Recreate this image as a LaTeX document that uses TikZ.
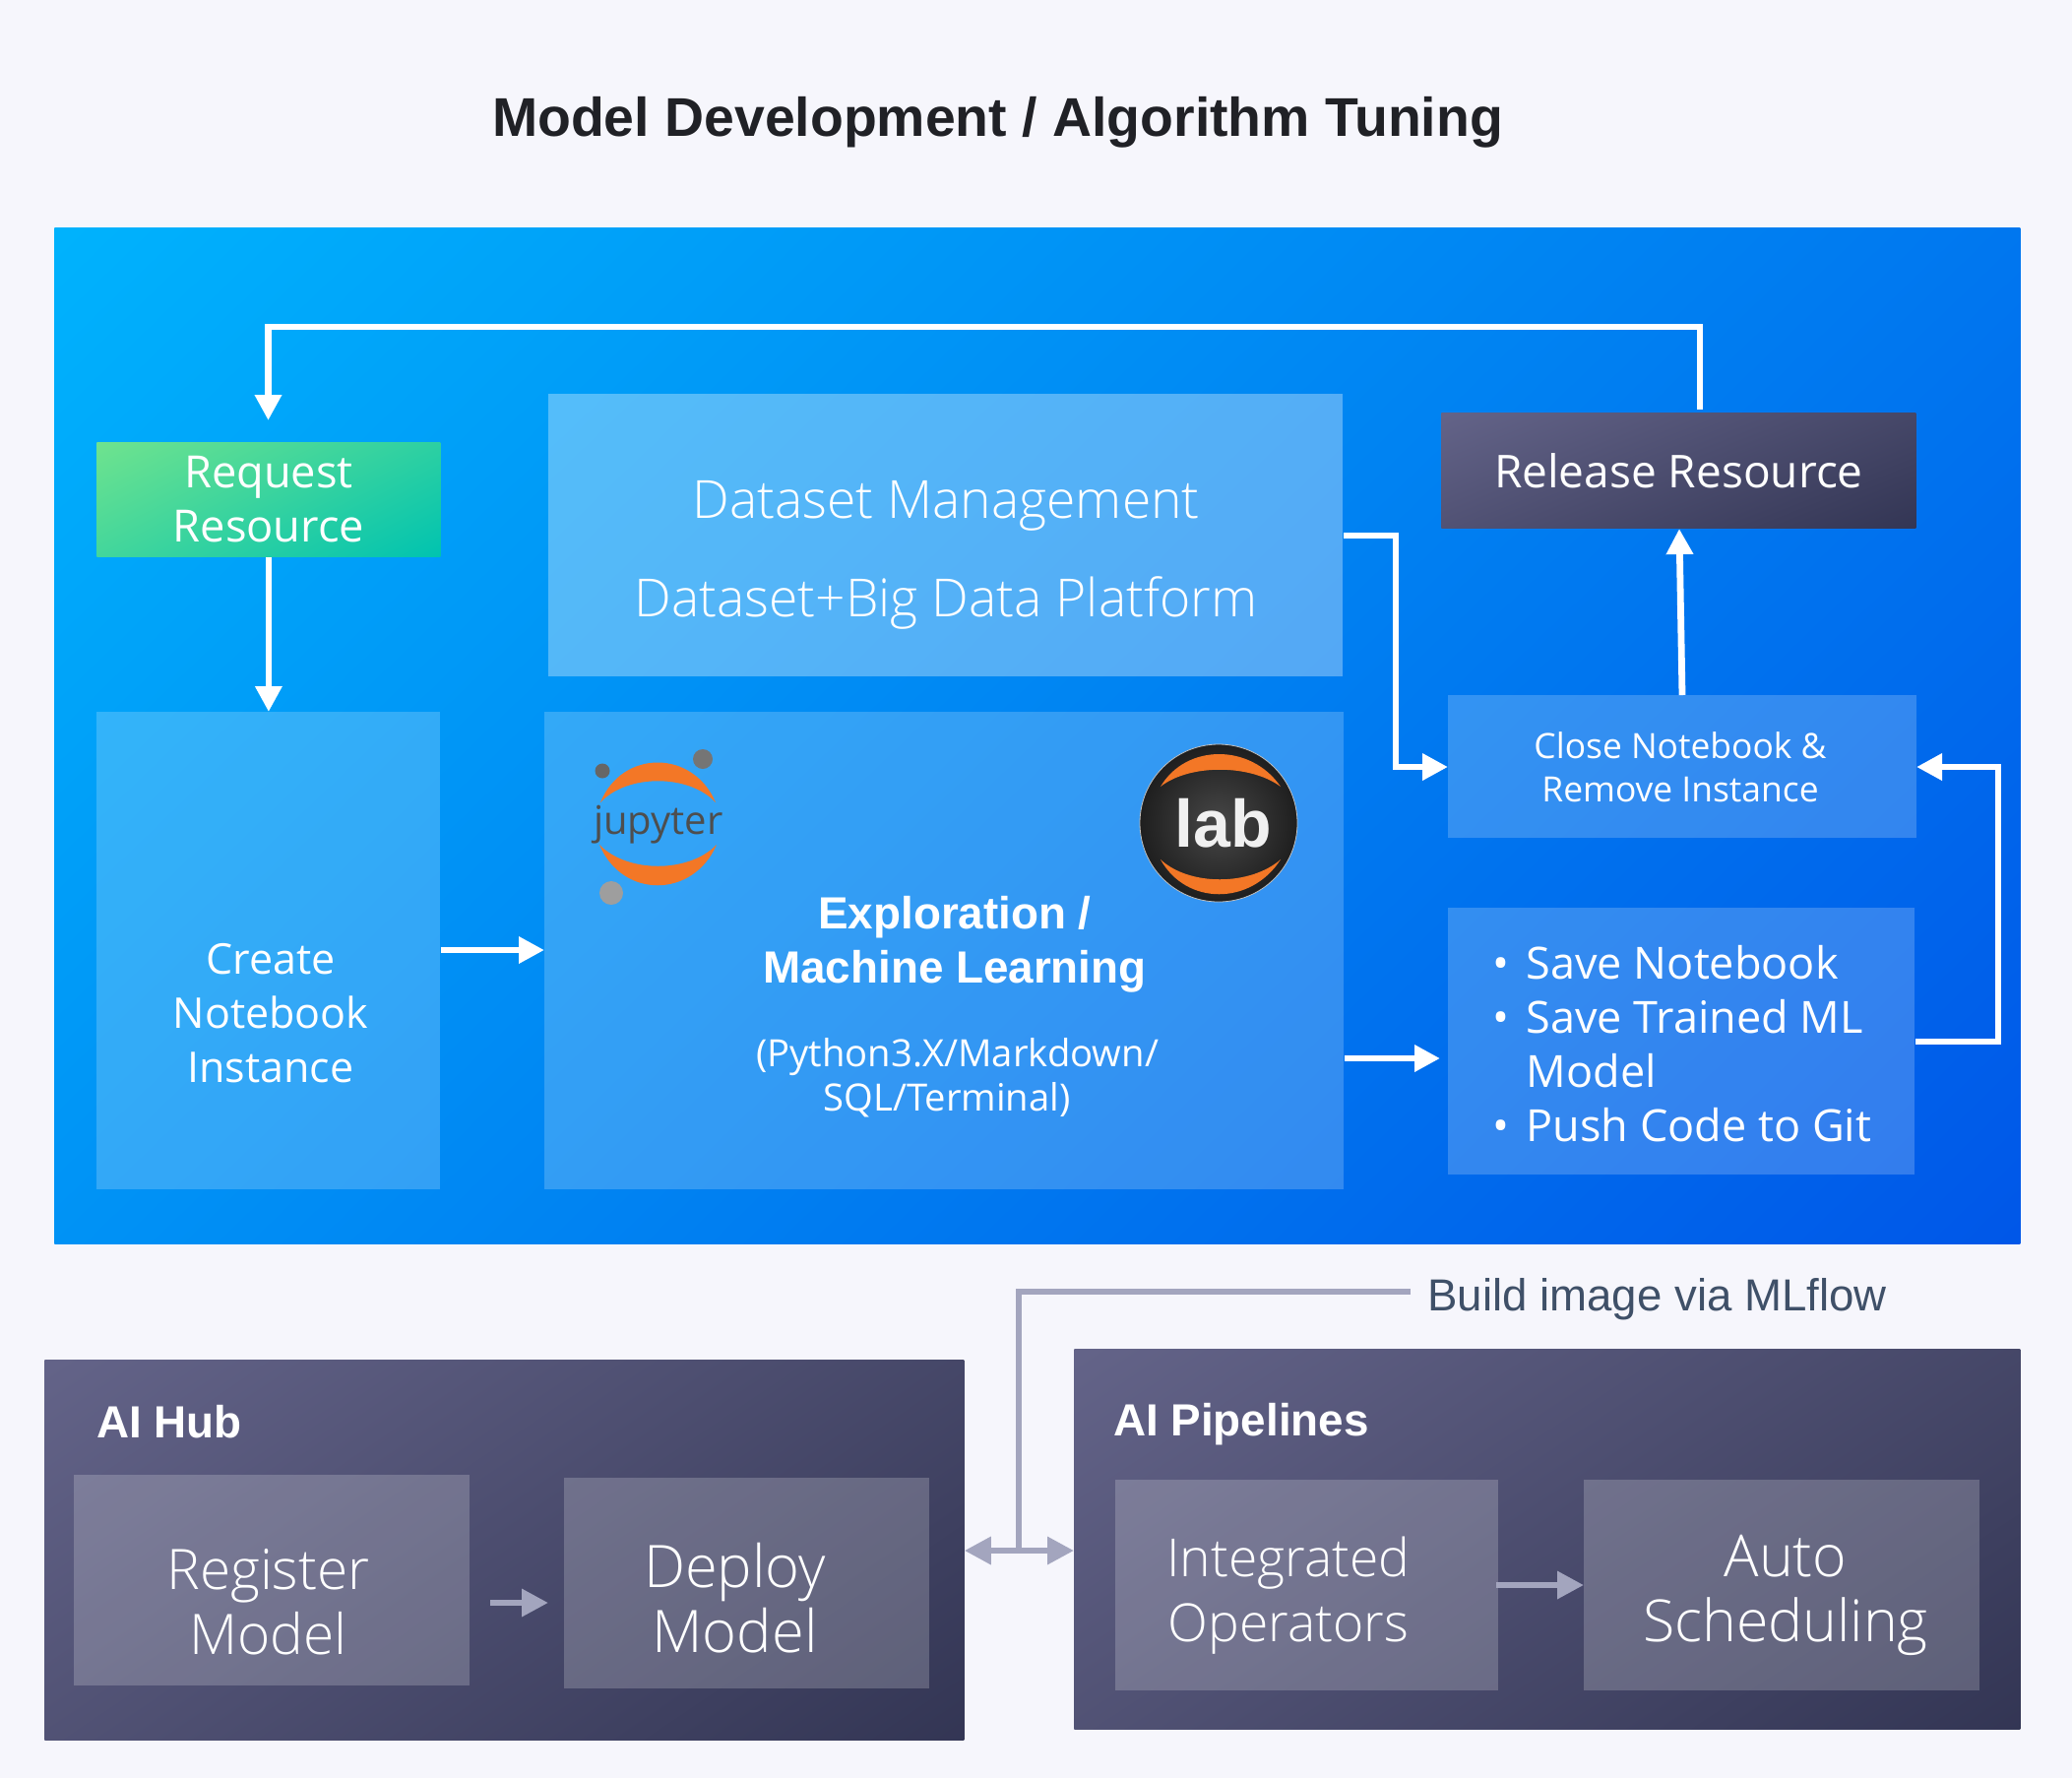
\documentclass[tikz,border=0pt]{standalone}
\usepackage{fontspec}
\setmainfont{Open Sans}
\newfontfamily\headf{Liberation Sans}
\newfontfamily\lightf{Open Sans Light}
\usetikzlibrary{arrows.meta,calc}
\definecolor{pagebg}{HTML}{F6F6FC}
\definecolor{linkgrey}{HTML}{A3A5BE}
\definecolor{labelink}{HTML}{3F5068}
\definecolor{jorange}{HTML}{F37726}
% Two-colour diagonal ramp: the stack holds x y in 0..100bp, the box spans 25..75.
% Arguments: name, start r g b, change in r g b, share of the horizontal in the ramp.
\newcommand\diagramp[8]{%
  \pgfdeclarefunctionalshading{#1}{\pgfpointorigin}{\pgfpoint{100bp}{100bp}}{}{%
    75 exch sub 50 div 1 #8 sub mul exch 25 sub 50 div #8 mul add
    dup #5 mul #2 add exch
    dup #6 mul #3 add exch
    #7 mul #4 add
  }%
}
\diagramp{rampblue}{0}{0.70}{0.99}{0}{-0.36}{-0.08}{0.65}
\diagramp{rampslate}{0.39}{0.39}{0.535}{-0.19}{-0.18}{-0.205}{0.62}
\diagramp{rampgreen}{0.435}{0.89}{0.557}{-0.435}{-0.125}{0.133}{0.6}
\tikzset{
  x=0.5pt,y=-0.5pt,
  boxat/.style n args={4}{at={(#1,#2)},anchor=north west,inner sep=0pt,
    minimum width={(#3-#1)*0.5pt},minimum height={(#4-#2)*0.5pt},align=center},
  glass/.style={fill=white,fill opacity=0.2,text opacity=1,text=white},
  paleglass/.style={glass,fill opacity=0.33},
  panelblue/.style={shade,shading=rampblue},
  panelslate/.style={shade,shading=rampslate,text=white},
  panelgreen/.style={shade,shading=rampgreen,text=white},
  boxlabel/.style={text=white,align=center,inner sep=0pt},
  lighttext/.style={boxlabel,font=\lightf\fontsize{26.7}{35}\selectfont},
  bigtext/.style={boxlabel,font=\lightf\fontsize{#1}{33}\selectfont},
  headtext/.style={font=\headf\bfseries\fontsize{22.9}{27.5}\selectfont,text=white},
  flow/.style={draw=white,line width=3.4pt,-{Triangle[length=13pt,width=13pt]}},
  linkline/.style={draw=linkgrey,line width=3.2pt},
  linkarrow/.style={linkline,-{Triangle[length=13.5pt,width=13.5pt]}},
  linkboth/.style={linkline,{Triangle[length=13.5pt,width=13.5pt]}-{Triangle[length=13.5pt,width=13.5pt]}},
}
\begin{document}
\begin{tikzpicture}
\useasboundingbox (0,0) rectangle (2105,1806);
\fill[pagebg] (0,0) rectangle (2105,1806);

\node[font=\headf\bfseries\fontsize{27.7}{32}\selectfont,text={rgb,255:red,32;green,33;blue,38}] (title) at (1013.5,124) {Model Development / Algorithm Tuning};

% upper panel and its boxes
\node[boxat={55}{231}{2052}{1263},panelblue] (panel) {};
\node[boxat={98}{449}{447}{565},panelgreen,font=\fontsize{22.6}{27.5}\selectfont] (request) {Request\\Resource};
\node[boxat={557}{400}{1364}{687},paleglass] (dataset) {};
\node[lighttext] (datasettext) at (961,564) {Dataset Management\\[14.7pt]Dataset+Big Data Platform};
\node[boxat={1464}{419}{1946}{536},panelslate,font=\fontsize{23}{27.5}\selectfont] (release) {Release Resource};
\node[boxat={1471}{706}{1947}{851},glass] (closebox) {};
\node[boxlabel,font=\fontsize{17.7}{22}\selectfont] (closetext) at (1707,779) {Close Notebook \&\\Remove Instance};
\node[boxat={1471}{922}{1945}{1193},glass] (savebox) {};
\node[boxat={98}{723}{447}{1208},glass] (create) {};
\node[boxat={553}{723}{1365}{1208},glass] (explore) {};

\node[boxlabel,font=\fontsize{21.5}{27.5}\selectfont] (createtext) at (275,1029) {Create\\Notebook\\Instance};
\node[anchor=north west,inner sep=0pt,font=\fontsize{22.5}{27.5}\selectfont,text=white,align=left] (savetext) at (1516,956)
  {\begin{tabular}{@{}l@{\hspace{8.7pt}}l@{}}
   \textbullet & Save Notebook\\
   \textbullet & Save Trained ML\\
               & Model\\
   \textbullet & Push Code to Git
   \end{tabular}};
\node[headtext,align=center] (explorehead) at (970,959) {Exploration /\\Machine Learning};
\node[font=\fontsize{19.1}{22.5}\selectfont,text=white,align=center] (exploresub) at (962,1095) {\hspace*{10.7pt}(Python3.X/Markdown/\\SQL/Terminal)};

% Jupyter mark
\fill[jorange] (610,815) .. controls (632,761) and (704,761) .. (727,815) .. controls (700,786) and (637,786) .. cycle;
\fill[jorange] (609,858) .. controls (632,913) and (704,913) .. (728,858) .. controls (700,887) and (637,887) .. cycle;
\fill[black!60] (612,783) circle (7.5);
\fill[black!54] (714,771) circle (10);
\fill[black!38] (621,907) circle (12);
\node[font=\fontsize{20}{20}\selectfont,text={rgb,255:red,78;green,78;blue,78}] (jupytertext) at (669,838) {jupyter};

% JupyterLab mark
\node[circle,minimum size=80pt,inner sep=0pt,shade,inner color=black!72,outer color=black!88,draw=white!75!black,line width=0.4pt] (labdisc) at (1238,836) {};
\fill[jorange] (1179,799) .. controls (1205,755) and (1271,755) .. (1301,799) .. controls (1270,776) and (1208,776) .. cycle;
\fill[jorange] (1179,873) .. controls (1205,920) and (1271,920) .. (1301,873) .. controls (1270,900) and (1208,900) .. cycle;
\node[font=\headf\bfseries\fontsize{34}{34}\selectfont,text=black!6] (labtext) at (1243,836) {lab};

% flows inside the upper panel
\coordinate (returnstart) at (1727,416);
\coordinate (returnend) at (272.5,427);
\coordinate (savestop) at (1463,1075);
\coordinate (closeleft) at (1471,779);
\coordinate (closeright) at (1947,779);
\coordinate (releasefoot) at (1706,537);
\draw[flow] (returnstart) -- (1727,332) -- (272.5,332) -- (returnend);
\draw[flow] (request.south) -- (create.north -| request.south);
\draw[flow] (create.east |- 0,965) -- (explore.west |- 0,965);
\draw[flow] (dataset.east |- 0,544) -- (1418,544) -- (1418,779) -- (closeleft);
\draw[flow] (explore.east |- savestop) -- (savestop);
\draw[flow] (savebox.east |- 0,1058) -- (2030,1058) -- (2030,779) -- (closeright);
\draw[flow] (1709,706) -- (releasefoot);

% lower panels
\node[boxat={45}{1381}{979}{1767},panelslate] (hub) {};
\node[boxat={1091}{1370}{2052}{1756},panelslate] (pipes) {};
\node[anchor=west,headtext] (hubhead) at (91,1444) {AI Hub};
\node[anchor=west,headtext] (pipeshead) at (1124,1447) {AI Pipelines};
\node[boxat={75}{1498}{477}{1712},glass] (register) {};
\node[boxat={573}{1501}{944}{1715},glass] (deploy) {};
\node[boxat={1133}{1503}{1522}{1717},glass] (operators) {};
\node[boxat={1609}{1503}{2011}{1717},glass] (autosched) {};
\node[bigtext=28.4] (registertext) at (272.5,1627) {Register\\Model};
\node[bigtext=29.8] (deploytext) at (746.5,1623) {Deploy\\Model};
\node[bigtext=26.7] (operatorstext) at (1309,1621) {Integrated\\Operators};
\node[bigtext=29.5] (autotext) at (1814,1620) {Auto\\Scheduling};

\draw[linkarrow] (498,1628) -- (557,1628);
\draw[linkarrow] (1520,1610) -- (autosched.west |- 0,1610);
\draw[linkboth] (hub.east |- 0,1575) -- (pipes.west |- 0,1575);

\node[anchor=west,inner sep=0pt,font=\headf\fontsize{22.8}{27.5}\selectfont,text=labelink] (buildlabel) at (1450,1320) {Build image via MLflow};
\coordinate (buildend) at (1433,1312);
\coordinate (buildjoin) at (1035,1575);
\draw[linkline] (buildend) -- (1035,1312) -- (buildjoin);
\end{tikzpicture}
\end{document}
